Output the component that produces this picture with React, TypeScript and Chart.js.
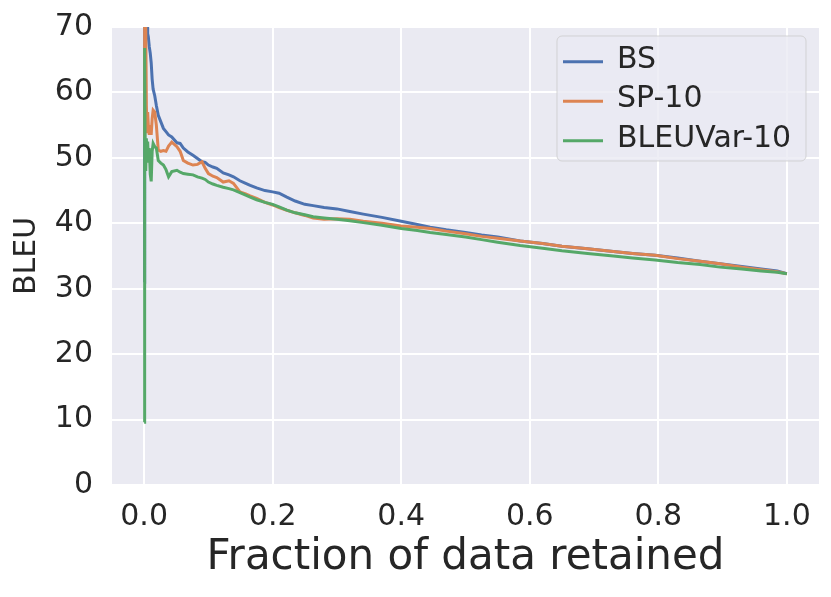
import { useEffect, useRef } from "react";
import { Chart, registerables } from "chart.js";

Chart.register(...registerables);

// Fraction of data retained (shared x positions for all curves)
const fractions = [
  0.0, 0.0008, 0.0015, 0.0025, 0.0035, 0.0045, 0.0055, 0.0065, 0.008, 0.0095,
  0.011, 0.0125, 0.014, 0.0165, 0.019, 0.022, 0.026, 0.03, 0.034, 0.038,
  0.043, 0.051, 0.056, 0.061, 0.068, 0.076, 0.083, 0.09, 0.095, 0.1,
  0.107, 0.113, 0.123, 0.132, 0.139, 0.149, 0.158, 0.165, 0.175, 0.188,
  0.2, 0.21, 0.222, 0.235, 0.25, 0.263, 0.28, 0.3, 0.32, 0.341,
  0.37, 0.4, 0.425, 0.445, 0.47, 0.5, 0.525, 0.55, 0.585, 0.62,
  0.65, 0.69, 0.73, 0.76, 0.795, 0.83, 0.865, 0.896, 0.93, 0.96,
  0.985, 1.0,
];

const bleuBS = [
  31, 78, 72, 74, 70, 71, 69, 68.5, 67, 66,
  64.5, 62, 60.5, 59.5, 58, 56.5, 55.5, 54.5, 54, 53.5,
  53.2, 52.3, 52.2, 51.5, 50.9, 50.4, 49.9, 49.4, 49.3, 48.9,
  48.6, 48.4, 47.7, 47.4, 47.1, 46.5, 46.1, 45.8, 45.4, 45,
  44.8, 44.6, 44, 43.4, 42.9, 42.7, 42.4, 42.2, 41.8, 41.4,
  40.9, 40.3, 39.8, 39.4, 39, 38.6, 38.2, 37.9, 37.3, 36.9,
  36.5, 36.1, 35.7, 35.4, 35.1, 34.7, 34.2, 33.8, 33.4, 33,
  32.7, 32.3,
];

const bleuSP10 = [
  53, 85, 60, 70, 58, 54, 57, 55, 53.5, 55,
  53.5, 56, 57.3, 57, 55, 51.2, 51, 51.1, 51, 51.8,
  52.4, 51.7, 51, 49.6, 49.2, 48.9, 49, 49.4, 48.4, 47.6,
  47.2, 47, 46.3, 46.5, 46.1, 44.8, 44.5, 44.2, 43.8, 43.2,
  42.8, 42.4, 42, 41.6, 41.2, 40.8, 40.6, 40.7, 40.6, 40.3,
  40, 39.6, 39.4, 39.2, 38.8, 38.4, 38, 37.7, 37.3, 36.9,
  36.5, 36.1, 35.7, 35.4, 35.1, 34.6, 34.2, 33.8, 33.3, 32.9,
  32.6, 32.3,
];

const bleuVar10 = [
  9.6, 66.8, 52, 48, 53, 49.5, 52.5, 50, 51.5, 47.5,
  46.4, 51, 52.2, 51.7, 51.5, 49.6, 49.2, 48.9, 48.2, 47.1,
  47.9, 48.1, 47.8, 47.6, 47.5, 47.4, 47.1, 46.9, 46.7, 46.3,
  46, 45.8, 45.5, 45.3, 45.1, 44.7, 44.3, 44, 43.6, 43.2,
  42.9, 42.5, 42, 41.6, 41.3, 41, 40.8, 40.6, 40.4, 40.1,
  39.7, 39.2, 38.9, 38.6, 38.3, 37.9, 37.5, 37.1, 36.6, 36.2,
  35.8, 35.4, 35, 34.7, 34.4, 34, 33.7, 33.3, 33, 32.7,
  32.5, 32.3,
];

const seriesNames = ["BS", "SP-10", "BLEUVar-10"];
const seriesColors = ["#4C72B0", "#DD8452", "#55A868"];
const xTicks = [0, 0.2, 0.4, 0.6, 0.8, 1.0];
const yTicks = [0, 10, 20, 30, 40, 50, 60, 70];

const FONT = "'DejaVu Sans', 'Liberation Sans', sans-serif";
const TEXT = "#262626";

// seaborn darkgrid style background
const plotBackground = {
  id: "plotBackground",
  beforeDraw(chart: Chart) {
    const { ctx, chartArea } = chart;
    ctx.save();
    ctx.fillStyle = "#EAEAF2";
    ctx.fillRect(chartArea.left, chartArea.top, chartArea.width, chartArea.height);
    ctx.restore();
  },
};

// matplotlib-like legend box inside the top right corner
const boxLegend = {
  id: "boxLegend",
  afterDraw(chart: Chart) {
    const { ctx, chartArea } = chart;
    const w = 249;
    const h = 125;
    const left = chartArea.right - 13 - w;
    const top = chartArea.top + 9;
    ctx.save();
    ctx.beginPath();
    ctx.roundRect(left, top, w, h, 5);
    ctx.fillStyle = "rgba(234,234,242,0.8)";
    ctx.fill();
    ctx.strokeStyle = "rgba(204,204,204,0.8)";
    ctx.lineWidth = 1;
    ctx.stroke();
    ctx.font = `30px ${FONT}`;
    ctx.textBaseline = "alphabetic";
    ctx.textAlign = "left";
    chart.data.datasets.forEach((ds, i) => {
      const y = top + 25.7 + i * 39.5;
      ctx.beginPath();
      ctx.moveTo(left + 6, y);
      ctx.lineTo(left + 46, y);
      ctx.strokeStyle = ds.borderColor as string;
      ctx.lineWidth = 3;
      ctx.stroke();
      ctx.fillStyle = TEXT;
      ctx.fillText(ds.label as string, left + 60, y + 6);
    });
    ctx.restore();
  },
};

export default function App() {
  const canvasRef = useRef<HTMLCanvasElement | null>(null);
  const chartRef = useRef<Chart | null>(null);

  useEffect(() => {
    document.body.style.margin = "0";
    if (!canvasRef.current) return;
    if (chartRef.current) chartRef.current.destroy();

    const seriesValues = [bleuBS, bleuSP10, bleuVar10];

    chartRef.current = new Chart(canvasRef.current, {
      type: "line",
      data: {
        datasets: seriesValues.map((vals, i) => ({
          label: seriesNames[i],
          data: fractions.map((x, j) => ({ x, y: vals[j] })),
          borderColor: seriesColors[i],
          backgroundColor: seriesColors[i],
          borderWidth: 3,
          pointRadius: 0,
          tension: 0,
          order: 3 - i,
        })),
      },
      options: {
        responsive: true,
        maintainAspectRatio: false,
        animation: false,
        layout: { padding: { top: 27, right: 12, left: 0, bottom: 0 } },
        plugins: {
          legend: { display: false },
          tooltip: { enabled: false },
        },
        scales: {
          x: {
            type: "linear",
            min: -0.05,
            max: 1.05,
            afterBuildTicks: (scale: any) => {
              scale.ticks = xTicks.map((v) => ({ value: v }));
            },
            afterFit: (scale: any) => {
              scale.height = 112;
              scale.paddingLeft = 0;
              scale.paddingRight = 0;
            },
            grid: { color: "#ffffff", lineWidth: 2, drawTicks: false },
            border: { display: false },
            ticks: {
              color: TEXT,
              font: { family: FONT, size: 30, lineHeight: 1.2 },
              padding: 14,
              maxRotation: 0,
              callback: (v: any) => Number(v).toFixed(1),
            },
            title: {
              display: true,
              text: "Fraction of data retained",
              color: TEXT,
              font: { family: FONT, size: 42, lineHeight: 1.2 },
              padding: { top: 0, bottom: 14 },
            },
          },
          y: {
            type: "linear",
            min: 0,
            max: 70,
            afterBuildTicks: (scale: any) => {
              scale.ticks = yTicks.map((v) => ({ value: v }));
            },
            afterFit: (scale: any) => {
              scale.width = 112;
              scale.paddingTop = 0;
              scale.paddingBottom = 0;
            },
            grid: { color: "#ffffff", lineWidth: 2, drawTicks: false },
            border: { display: false },
            ticks: {
              color: TEXT,
              font: { family: FONT, size: 30, lineHeight: 0.7 },
              padding: 19,
            },
            title: {
              display: true,
              text: "BLEU",
              color: TEXT,
              font: { family: FONT, size: 30, lineHeight: 1.2 },
              padding: { top: 9, bottom: 0 },
            },
          },
        },
      },
      plugins: [plotBackground, boxLegend],
    });

    return () => {
      if (chartRef.current) {
        chartRef.current.destroy();
        chartRef.current = null;
      }
    };
  }, []);

  return (
    <div style={{ width: 831, height: 597, position: "relative", background: "#ffffff" }}>
      <canvas ref={canvasRef} />
    </div>
  );
}
